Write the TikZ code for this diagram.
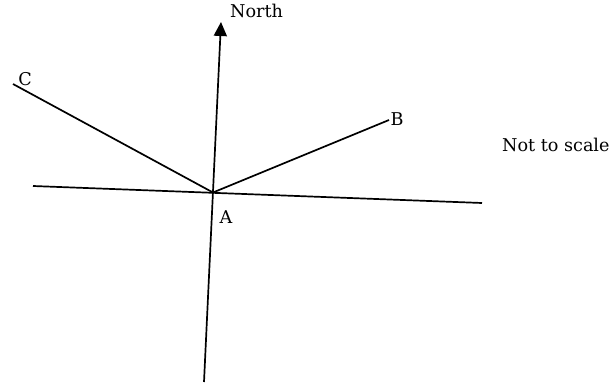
\documentclass[tikz,border=0pt]{standalone}
\usepackage{fontspec}
\setmainfont{DejaVu Serif}
\usetikzlibrary{arrows.meta, positioning}

\begin{document}
\begin{tikzpicture}[x=1pt, y=-1pt,
    ray/.style={line width=1.7pt},
    lbl/.style={font=\fontsize{17.6}{20}\selectfont, inner sep=0pt}]
    \useasboundingbox (0,0) rectangle (616,383);

    % Points
    \coordinate (A) at (213,192.5);
    \coordinate (S) at (204,382);
    \coordinate (N) at (221,22);
    \coordinate (W) at (33,186);
    \coordinate (E) at (482,203);
    \coordinate (B) at (389,120);
    \coordinate (C) at (13,84);

    % North axis and east-west line
    \draw[ray, -{Triangle[width=13pt,length=14pt]}] (S) -- (N);
    \draw[ray] (W) -- (E);

    % Bearings
    \draw[ray] (A) -- (B);
    \draw[ray] (A) -- (C);

    % Labels
    \node[lbl, anchor=base west] (north) at (230,17) {North};
    \node[lbl, anchor=base] (labelA) at (226,223) {A};
    \node[lbl, anchor=base] (labelB) at (397,125) {B};
    \node[lbl, anchor=base] (labelC) at (25,85) {C};
    \node[lbl, anchor=base west] (note) at (502,151) {Not to scale};
\end{tikzpicture}
\end{document}
